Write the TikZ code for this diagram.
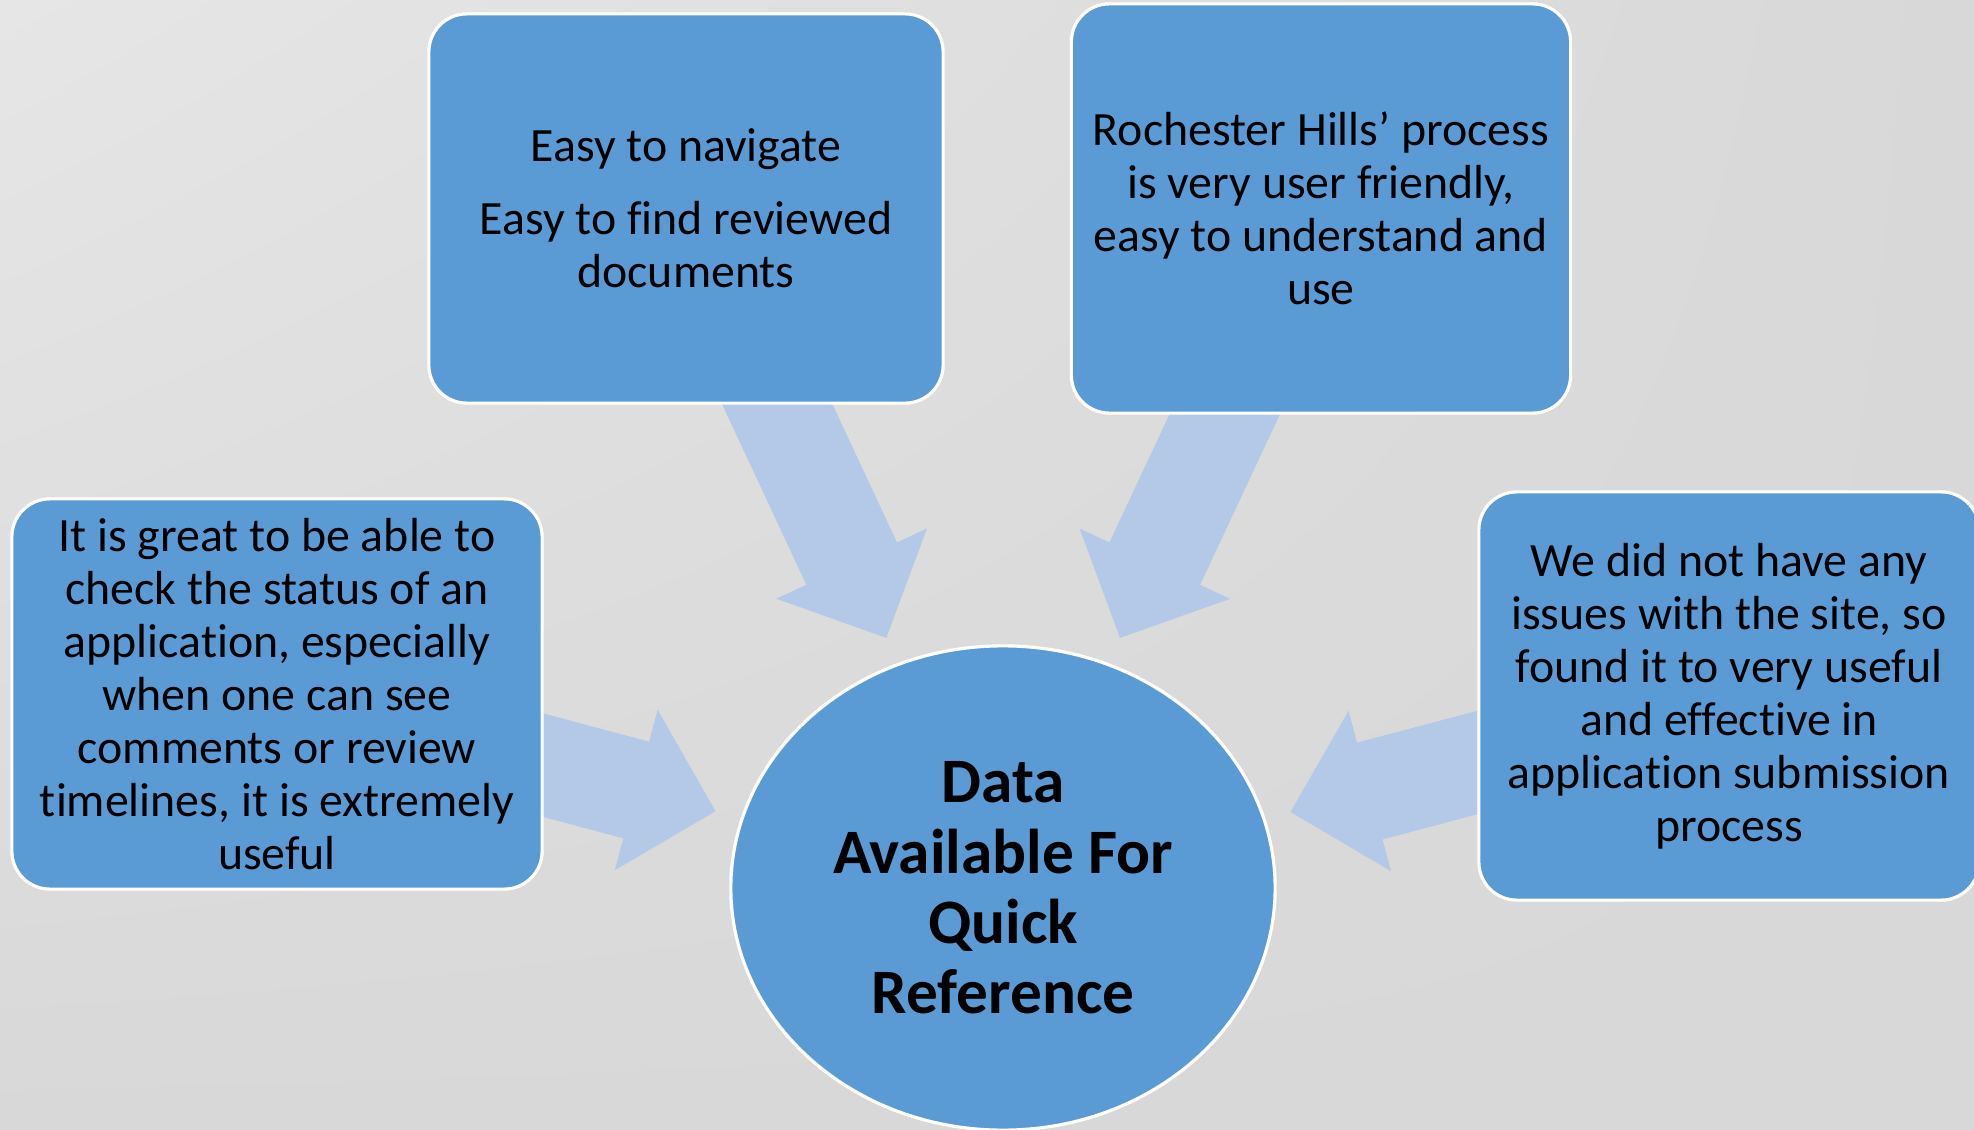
\documentclass[tikz,border=0pt]{standalone}
\usepackage{fontspec}
\setmainfont[Ligatures=NoCommon]{Carlito}
\usetikzlibrary{calc,shapes.geometric,shadings}

\definecolor{boxblue}{HTML}{5B9BD5}
\definecolor{arrowblue}{HTML}{B4C9E8}
\definecolor{bglight}{HTML}{E6E6E6}
\definecolor{bgdark}{HTML}{D8D8D8}

\tikzset{
    quote/.style={rectangle, rounded corners=0.38cm, fill=boxblue, draw=white,
        line width=0.9pt, inner sep=0pt, align=center,
        font=\fontsize{13.6}{15.1}\selectfont},
    hub/.style={ellipse, fill=boxblue, draw=white, line width=0.9pt,
        inner sep=0pt, minimum width=5.44cm, minimum height=4.84cm,
        align=center, font=\fontsize{18}{20}\selectfont\bfseries}
}

\begin{document}
\begin{tikzpicture}[x=0.01cm,y=-0.01cm]
        %% Background
        \useasboundingbox (0,0) rectangle (1974,1130);
        \shade[upper left=bglight, upper right=bgdark, lower left=bgdark,
            lower right=bgdark] (0,0) rectangle (1974,1130);
        %% Centre
        \node[hub] (data) at (1003,888)
            {Data\\Available For\\Quick\\Reference};
        %% Boxes (placed first as coordinates, drawn after the arrows)
        \coordinate (tlpos) at (686,208.5);
        \coordinate (trpos) at (1321,208.5);
        \coordinate (lfpos) at (277,694);
        \coordinate (rtpos) at (1729,696);
        %% Block arrows
        \foreach \src/\f in {tlpos/0.632, trpos/0.632, lfpos/0.604, rtpos/0.604} {
            \coordinate (tip) at ($(\src)!\f!(data.center)$);
            \coordinate (neck) at ($(tip)!0.82cm!(\src)$);
            \fill[arrowblue] ($(\src)!0.5cm!90:(tip)$)
                -- ($(neck)!0.5cm!90:(tip)$)
                -- ($(neck)!0.83cm!90:(tip)$)
                -- (tip)
                -- ($(neck)!0.83cm!-90:(tip)$)
                -- ($(neck)!0.5cm!-90:(tip)$)
                -- ($(\src)!0.5cm!-90:(tip)$) -- cycle;
        }
        %% Quotes
        \node[quote, minimum width=5.14cm, minimum height=3.89cm] (navigate) at (tlpos)
            {Easy to navigate\\[5.7pt]Easy to find reviewed\\documents};
        \node[quote, minimum width=4.99cm, minimum height=4.09cm] (friendly) at (trpos)
            {Rochester Hills’ process\\is very user friendly,\\easy to understand and\\use};
        \node[quote, minimum width=5.30cm, minimum height=3.90cm] (status) at (lfpos)
            {It is great to be able to\\check the status of an\\application, especially\\when one can see\\comments or review\\timelines, it is extremely\\useful};
        \node[quote, minimum width=5.00cm, minimum height=4.08cm] (noissues) at (rtpos)
            {We did not have any\\issues with the site, so\\found it to very useful\\and effective in\\application submission\\process};
    \end{tikzpicture}
\end{document}
